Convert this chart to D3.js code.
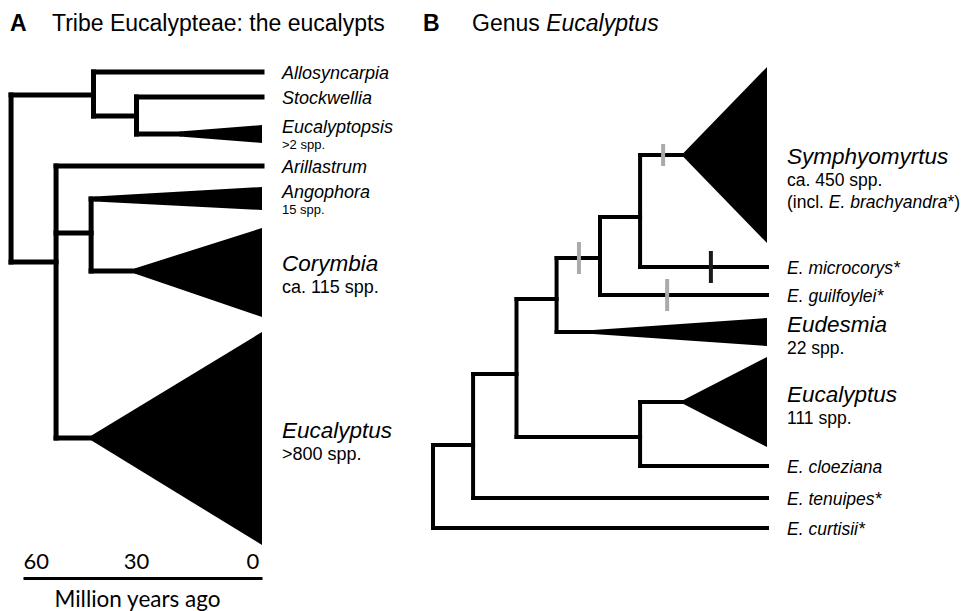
<!DOCTYPE html>
<html>
<head>
<meta charset="utf-8">
<script src="https://cdn.jsdelivr.net/npm/d3@7"></script>
<style>
  body { margin: 0; background: #fff; }
  text { font-family: "Liberation Sans", Arial, sans-serif; fill: #000; }
</style>
</head>
<body>
<script>
// ---- Panel A: tribe Eucalypteae (ages in million years) ----
// y = vertical slot of the branch (1 slot = one thin tip row)
let nodesA = [
  { id: 'rootA',         parent: null,    age: 63.0, y: null  },
  { id: 'a1',            parent: 'rootA', age: 42.3, y: 0.92  },
  { id: 'Allosyncarpia', parent: 'a1',    age: 0,    y: 0     },
  { id: 'a2',            parent: 'a1',    age: 31.5, y: 1.76  },
  { id: 'Stockwellia',   parent: 'a2',    age: 0,    y: 1     },
  { id: 'Eucalyptopsis', parent: 'a2',    age: 20.7, y: 2.48  },
  { id: 'a3',            parent: 'rootA', age: 51.7, y: 7.6   },
  { id: 'Arillastrum',   parent: 'a3',    age: 0,    y: 3.76  },
  { id: 'a4',            parent: 'a3',    age: 42.9, y: 6.44  },
  { id: 'Angophora',     parent: 'a4',    age: 42.0, y: 5.08  },
  { id: 'Corymbia',      parent: 'a4',    age: 32.0, y: 7.96  },
  { id: 'EucalyptusA',   parent: 'a3',    age: 42.8, y: 14.64 }
];

// collapsed clades: spread of the triangle at the tips (slots)
let cladesA = [
  { id: 'Eucalyptopsis', top: 2.12,  bottom: 2.84  },
  { id: 'Angophora',     top: 4.6,   bottom: 5.52  },
  { id: 'Corymbia',      top: 6.24,  bottom: 9.8   },
  { id: 'EucalyptusA',   top: 10.4,  bottom: 18.92 }
];

let labelsA = [
  { id: 'Allosyncarpia', name: 'Allosyncarpia' },
  { id: 'Stockwellia',   name: 'Stockwellia' },
  { id: 'Eucalyptopsis', name: 'Eucalyptopsis', sub: '>2 spp.' },
  { id: 'Arillastrum',   name: 'Arillastrum' },
  { id: 'Angophora',     name: 'Angophora', sub: '15 spp.' },
  { id: 'Corymbia',      name: 'Corymbia', sub: 'ca. 115 spp.' },
  { id: 'EucalyptusA',   name: 'Eucalyptus', sub: '>800 spp.' }
];
let majorA = ['Corymbia', 'EucalyptusA'];

let timeTicks = [60, 30, 0];

// ---- Panel B: genus Eucalyptus (relative depth, root = 1) ----
let nodesB = [
  { id: 'rootB',         parent: null,    depth: 1.00, y: null  },
  { id: 'b1',            parent: 'rootB', depth: 0.88, y: 14.92 },
  { id: 'curtisii',      parent: 'rootB', depth: 0,    y: 18.24 },
  { id: 'b2',            parent: 'b1',    depth: 0.75, y: 12.08 },
  { id: 'tenuipes',      parent: 'b1',    depth: 0,    y: 17.04 },
  { id: 'b3',            parent: 'b2',    depth: 0.63, y: 9.08  },
  { id: 'b4',            parent: 'b2',    depth: 0.38, y: 14.6  },
  { id: 'EucalyptusB',   parent: 'b4',    depth: 0.25, y: 13.2  },
  { id: 'cloeziana',     parent: 'b4',    depth: 0,    y: 15.76 },
  { id: 'b5',            parent: 'b3',    depth: 0.50, y: 7.44  },
  { id: 'Eudesmia',      parent: 'b3',    depth: 0.52, y: 10.4  },
  { id: 'b6',            parent: 'b5',    depth: 0.38, y: 5.8   },
  { id: 'guilfoylei',    parent: 'b5',    depth: 0,    y: 8.92  },
  { id: 'Symphyomyrtus', parent: 'b6',    depth: 0.25, y: 3.32  },
  { id: 'microcorys',    parent: 'b6',    depth: 0,    y: 7.8   }
];

let cladesB = [
  { id: 'Symphyomyrtus', top: -0.2,  bottom: 6.84  },
  { id: 'Eudesmia',      top: 9.84,  bottom: 10.96 },
  { id: 'EucalyptusB',   top: 11.4,  bottom: 15    }
];

let labelsB = [
  { id: 'Symphyomyrtus', name: 'Symphyomyrtus', sub: 'ca. 450 spp.', sub2: true },
  { id: 'microcorys',    name: 'E. microcorys*' },
  { id: 'guilfoylei',    name: 'E. guilfoylei*' },
  { id: 'Eudesmia',      name: 'Eudesmia', sub: '22 spp.' },
  { id: 'EucalyptusB',   name: 'Eucalyptus', sub: '111 spp.' },
  { id: 'cloeziana',     name: 'E. cloeziana' },
  { id: 'tenuipes',      name: 'E. tenuipes*' },
  { id: 'curtisii',      name: 'E. curtisii*' }
];
let majorB = ['Symphyomyrtus', 'Eudesmia', 'EucalyptusB'];

// bars crossing branches (branch given by its child node)
let marksB = [
  { node: 'Symphyomyrtus', at: 0.311, kind: 'gray'  },
  { node: 'b5',            at: 0.563, kind: 'gray'  },
  { node: 'microcorys',    at: 0.168, kind: 'black' },
  { node: 'guilfoylei',    at: 0.299, kind: 'gray'  }
];

// ---- svg ----
let width = 969, height = 611;

let svg = d3.select('body')
  .append('svg')
  .attr('width', width)
  .attr('height', height)
  .style('background', '#fff');

let y = d3.scaleLinear().domain([0, 20]).range([72, 572]);
let xA = d3.scaleLinear().domain([60, 0]).range([23, 262]);
let xB = d3.scaleLinear().domain([1, 0]).range([433, 767]);

function drawTree(g, nodes, clades, x, key, sw) {
  let byId = new Map(nodes.map(d => [d.id, d]));
  let kids = Array.from(d3.group(nodes.filter(d => d.parent), d => d.parent));

  // vertical connectors
  g.selectAll('line.v')
    .data(kids)
    .enter()
    .append('line')
    .attr('x1', d => x(byId.get(d[0])[key]))
    .attr('x2', d => x(byId.get(d[0])[key]))
    .attr('y1', d => y(d3.min(d[1], c => c.y)))
    .attr('y2', d => y(d3.max(d[1], c => c.y)))
    .attr('stroke', '#000')
    .attr('stroke-width', sw)
    .attr('stroke-linecap', 'square');

  // horizontal branches
  g.selectAll('line.h')
    .data(nodes.filter(d => d.parent))
    .enter()
    .append('line')
    .attr('x1', d => x(byId.get(d.parent)[key]))
    .attr('x2', d => x(d[key]))
    .attr('y1', d => y(d.y))
    .attr('y2', d => y(d.y))
    .attr('stroke', '#000')
    .attr('stroke-width', sw)
    .attr('stroke-linecap', 'square');

  // collapsed clades as triangles
  g.selectAll('polygon')
    .data(clades)
    .enter()
    .append('polygon')
    .attr('points', d => {
      let n = byId.get(d.id);
      return [
        [x(n[key]), y(n.y) - sw / 2],
        [x(0), y(d.top)],
        [x(0), y(d.bottom)],
        [x(n[key]), y(n.y) + sw / 2]
      ].join(' ');
    })
    .attr('fill', '#000');

  return byId;
}

function drawLabels(g, labels, byId, x, major, opt) {
  let lx = x(0) + 20;
  labels.forEach(l => {
    let n = byId.get(l.id);
    let big = major.includes(l.id);
    if (!l.sub) {
      g.append('text')
        .attr('x', lx).attr('y', y(n.y))
        .attr('dy', '0.38em')
        .style('font-size', opt.tip + 'px')
        .style('font-style', 'italic')
        .text(l.name);
      return;
    }
    // three-line blocks sit a little lower so they centre on the apex
    let yy = y(n.y) + (l.sub2 ? 9 : big ? 0 : -1);
    g.append('text')
      .attr('x', lx).attr('y', yy)
      .style('font-size', (big ? opt.big : opt.tip) + 'px')
      .style('font-style', 'italic')
      .text(l.name);
    g.append('text')
      .attr('x', lx).attr('y', yy + (big ? 22 : 16))
      .style('font-size', (big ? opt.sub : opt.small) + 'px')
      .text(l.sub);
    if (l.sub2) {
      let t = g.append('text')
        .attr('x', lx).attr('y', yy + 44)
        .style('font-size', opt.sub + 'px');
      t.append('tspan').text('(incl. ');
      t.append('tspan').style('font-style', 'italic').text('E. brachyandra');
      t.append('tspan').text('*)');
    }
  });
}

// ---- panel A ----
let gA = svg.append('g');
let idA = drawTree(gA, nodesA, cladesA, xA, 'age', 5);
drawLabels(gA, labelsA, idA, xA, majorA, { tip: 18, big: 22.5, sub: 18, small: 13 });

// time axis
let axisY = 578;
let axA = svg.append('g')
  .attr('transform', `translate(0,${axisY})`)
  .call(d3.axisTop(xA).tickValues(timeTicks).tickSize(0).tickPadding(9).tickFormat(d3.format('d')));
axA.select('.domain').attr('stroke', '#000').attr('stroke-width', 3);
axA.selectAll('text')
  .style('font-family', 'Lato, "Open Sans", sans-serif')
  .style('font-size', '22px')
  .attr('fill', '#000')
  .attr('dx', d => d === 30 ? '-0.3em' : d === 0 ? '-0.15em' : 0)
  .attr('text-anchor', d => d === 60 ? 'start' : d === 0 ? 'end' : 'middle');

svg.append('text')
  .attr('x', xA(30) - 5)
  .attr('y', 607)
  .attr('text-anchor', 'middle')
  .style('font-family', 'Lato, "Open Sans", sans-serif')
  .style('font-size', '22.5px')
  .text('Million years ago');

// ---- panel B ----
let gB = svg.append('g');
let idB = drawTree(gB, nodesB, cladesB, xB, 'depth', 4);

gB.selectAll('line.mark')
  .data(marksB)
  .enter()
  .append('line')
  .attr('x1', d => xB(d.at))
  .attr('x2', d => xB(d.at))
  .attr('y1', d => y(idB.get(d.node).y) - (d.node === 'Symphyomyrtus' ? 11 : 16))
  .attr('y2', d => y(idB.get(d.node).y) + (d.node === 'Symphyomyrtus' ? 11 : 16))
  .attr('stroke', d => d.kind === 'gray' ? '#aaaaaa' : '#1a1a1a')
  .attr('stroke-width', 4);

drawLabels(gB, labelsB, idB, xB, majorB, { tip: 17.5, big: 22.5, sub: 17.5, small: 13 });

// ---- panel titles ----
let tA = svg.append('text').attr('x', 10).attr('y', 31).style('font-size', '23px');
tA.append('tspan').style('font-weight', 'bold').text('A');
tA.append('tspan').attr('x', 52).text('Tribe Eucalypteae: the eucalypts');

let tB = svg.append('text').attr('x', 423).attr('y', 31).style('font-size', '23px');
tB.append('tspan').style('font-weight', 'bold').text('B');
tB.append('tspan').attr('x', 472).text('Genus ');
tB.append('tspan').style('font-style', 'italic').text('Eucalyptus');
</script>
</body>
</html>
